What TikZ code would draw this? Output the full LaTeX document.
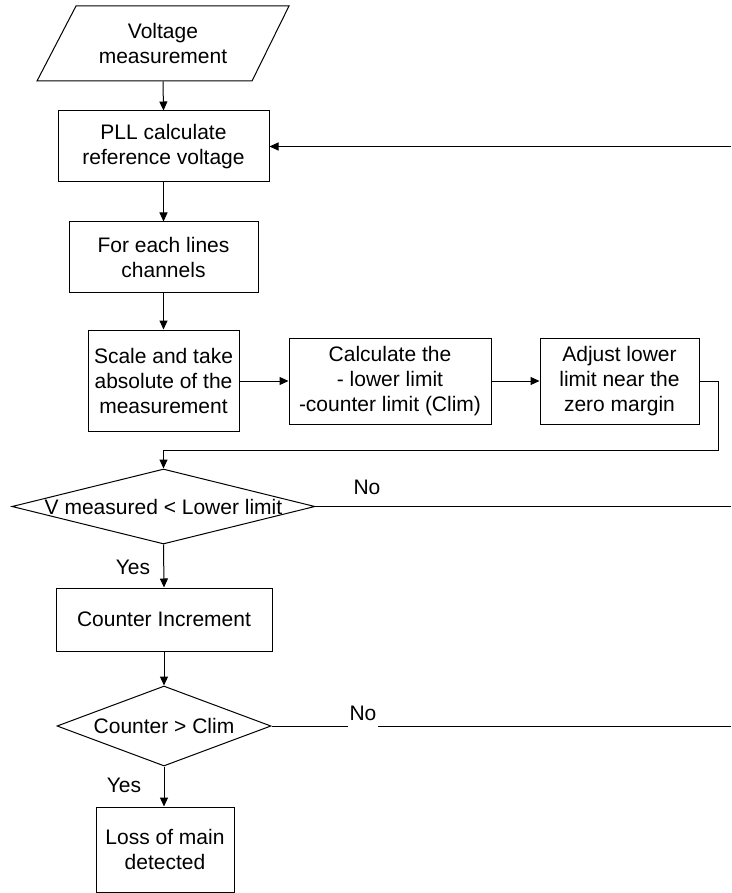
\documentclass[tikz,border=0pt]{standalone}
\usepackage{fontspec}
\setmainfont{Liberation Sans}
\usetikzlibrary{arrows.meta,shapes.geometric}
\begin{document}
\begin{tikzpicture}[x=1pt,y=-1pt,
  line width=1pt,
  every node/.style={font=\fontsize{21}{25}\selectfont, align=center},
  proc/.style={draw, rectangle, inner sep=0pt},
  dec/.style={draw, diamond, inner sep=0pt},
  arr/.style={-{Triangle[length=9pt,width=8pt]}},
  lbl/.style={inner sep=1pt}
]
\useasboundingbox (0,0) rectangle (731,893);
% input parallelogram
\draw (76,6) -- (289,6) -- (252,81) -- (37,81) -- cycle;
\node[rectangle, inner sep=0pt, minimum width=175pt, minimum height=75pt] (vm) at (163,43.5) {Voltage\\measurement};
% process boxes
\node[proc, minimum width=211pt, minimum height=71pt] (pll) at (163.5,146.5) {PLL calculate\\reference voltage};
\node[proc, minimum width=189pt, minimum height=70pt] (each) at (163.5,257) {For each lines\\channels};
\node[proc, minimum width=151pt, minimum height=101pt] (scale) at (163.5,380.5) {Scale and take\\absolute of the\\measurement};
\node[proc, minimum width=202pt, minimum height=86pt] (calc) at (390,381) {Calculate the\\- lower limit\\-counter limit (Clim)};
\node[proc, minimum width=159pt, minimum height=86pt] (adj) at (619.5,381) {Adjust lower\\limit near the\\zero margin};
% decision 1
\node[dec, minimum width=303pt, minimum height=75pt] (d1) at (163.5,506.5) {};
\node at (d1) {V measured < Lower limit};
\node[proc, minimum width=216pt, minimum height=63pt] (ci) at (164,619.5) {Counter Increment};
% decision 2
\node[dec, minimum width=214pt, minimum height=80pt] (d2) at (164,726) {};
\node at (d2) {Counter > Clim};
\node[proc, minimum width=138pt, minimum height=85pt] (loss) at (165,849.5) {Loss of main\\detected};
% free-end coordinates
\coordinate (rin) at (731,146.5);
\coordinate (loopA) at (718,381);
\coordinate (loopB) at (718,450);
\coordinate (no1end) at (731,506.5);
\coordinate (no2end) at (731,726);
% connectors
\draw[arr] (vm.south) -- (pll.north);
\draw[arr] (rin) -- (pll.east);
\draw[arr] (pll.south) -- (each.north);
\draw[arr] (each.south) -- (scale.north);
\draw[arr] (scale.east |- calc.west) -- (calc.west);
\draw[arr] (calc.east) -- (adj.west);
\draw[arr] (adj.east) -- (loopA) -- (loopB) -- (loopB -| d1.north) -- (d1.north);
\draw (d1.east) -- (no1end);
\draw[arr] (d1.south) -- (ci.north);
\draw[arr] (ci.south) -- (d2.north);
\draw (d2.east) -- (no2end);
\draw[arr] (d2.south) -- (d2.south |- loss.north);
% labels
\node[lbl, anchor=base] (no1) at (367,494) {No};
\node[lbl, anchor=base] (yes1) at (133,574) {Yes};
\node[fill=white, inner xsep=2pt, inner ysep=0pt, text depth=8pt, anchor=base] (no2) at (363,720) {No};
\node[lbl, anchor=base] (yes2) at (124,792) {Yes};
\end{tikzpicture}
\end{document}
